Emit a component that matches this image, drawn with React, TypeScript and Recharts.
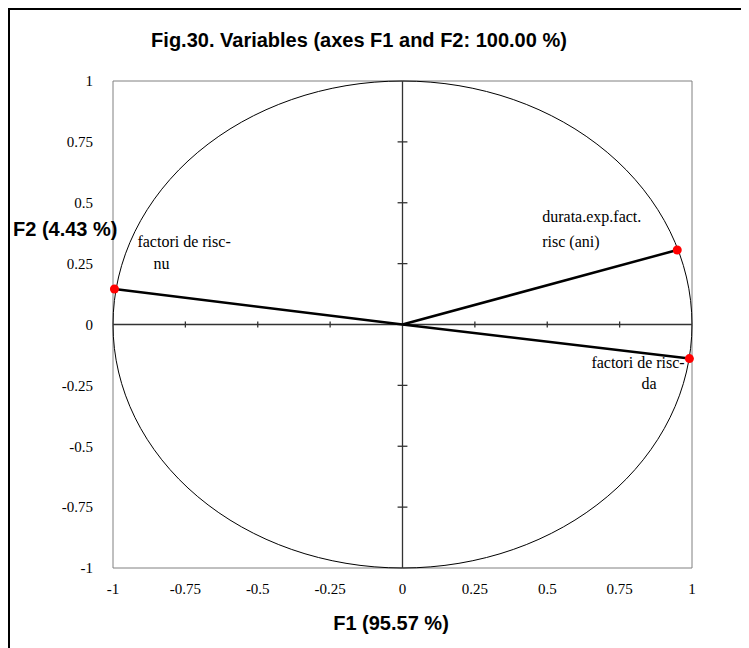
import { ReferenceArea, ReferenceLine, Scatter, ScatterChart, XAxis, YAxis } from "recharts";

const f1Ticks = [-1, -0.75, -0.5, -0.25, 0, 0.25, 0.5, 0.75, 1];
const f2Ticks = [-1, -0.75, -0.5, -0.25, 0, 0.25, 0.5, 0.75, 1];

const variables = ["factori de risc-nu", "durata.exp.fact. risc (ani)", "factori de risc-da"];
const f1Values = [-0.995, 0.949, 0.991];
const f2Values = [0.146, 0.306, -0.14];
const labelLines = [
  ["factori de risc-", "nu"],
  ["durata.exp.fact.", "risc (ani)"],
  ["factori de risc-", "da"],
];

// where each two-line label sits relative to its point (px)
const labelOffsets = [
  [[23, -42], [39, -20]],
  [[-135, -28], [-135, -3]],
  [[-98, 9], [-48, 30]],
];

const serif = "'Liberation Serif', 'Times New Roman', serif";
const sans = "'Liberation Sans', Arial, sans-serif";

function VectorEnd(props: any) {
  const { cx, cy, payload } = props;
  if (payload.origin) return <g />;
  const offs = labelOffsets[payload.idx];
  const lines = labelLines[payload.idx];
  return (
    <g>
      <circle cx={cx} cy={cy} r={4.5} fill="#ff0000" />
      {lines.map((t, i) => (
        <text key={i} x={cx + offs[i][0]} y={cy + offs[i][1]} fontFamily={serif} fontSize={16} fill="#000">
          {t}
        </text>
      ))}
    </g>
  );
}

function Ellipse(props: any) {
  const { x, y, width, height } = props;
  return (
    <ellipse cx={x + width / 2} cy={y + height / 2} rx={width / 2} ry={height / 2} fill="none" stroke="#000" strokeWidth={1} />
  );
}

export default function App() {
  const innerTicks = f1Ticks.filter((t) => t !== 0 && Math.abs(t) < 1);
  const innerTicksY = f2Ticks.filter((t) => t !== 0 && Math.abs(t) < 1);
  return (
    <div style={{ position: "relative", width: 741, height: 650, border: "2px solid #000", background: "#fff" }}>
      <ScatterChart width={741} height={640} margin={{ top: 71, right: 59, left: 43, bottom: 52 }}>
        <XAxis
          type="number"
          dataKey="x"
          domain={[-1, 1]}
          ticks={f1Ticks}
          axisLine={false}
          tickLine={false}
          tickSize={0}
          tickMargin={15}
          height={30}
          tick={{ fontFamily: serif, fontSize: 15, fill: "#000" }}
        />
        <YAxis
          type="number"
          dataKey="y"
          domain={[-1, 1]}
          ticks={f2Ticks}
          axisLine={false}
          tickLine={false}
          tickSize={0}
          tickMargin={20}
          width={60}
          tick={{ fontFamily: serif, fontSize: 15, fill: "#000" }}
        />
        <ReferenceArea x1={-1} x2={1} y1={-1} y2={1} fill="none" stroke="#808080" strokeWidth={1} />
        <ReferenceArea x1={-1} x2={1} y1={-1} y2={1} shape={<Ellipse />} />
        <ReferenceLine x={0} stroke="#333" strokeWidth={1.3} />
        <ReferenceLine y={0} stroke="#333" strokeWidth={1.3} />
        {innerTicks.map((t) => (
          <ReferenceLine key={"tx" + t} segment={[{ x: t, y: -0.0125 }, { x: t, y: 0.0125 }]} stroke="#333" strokeWidth={1.3} />
        ))}
        {innerTicksY.map((t) => (
          <ReferenceLine key={"ty" + t} segment={[{ x: -0.017, y: t }, { x: 0.017, y: t }]} stroke="#333" strokeWidth={1.3} />
        ))}
        {variables.map((name, i) => (
          <Scatter
            key={name}
            name={name}
            data={[
              { x: 0, y: 0, origin: true, idx: i },
              { x: f1Values[i], y: f2Values[i], origin: false, idx: i },
            ]}
            line={{ stroke: "#000", strokeWidth: 2.5 }}
            lineType="joint"
            shape={<VectorEnd />}
            isAnimationActive={false}
          />
        ))}
      </ScatterChart>
      <svg width={741} height={650} style={{ position: "absolute", left: 0, top: 0, pointerEvents: "none" }}>
        <text x={349} y={37} textAnchor="middle" fontFamily={sans} fontWeight="bold" fontSize={20} fill="#000">
          Fig.30. Variables (axes F1 and F2: 100.00 %)
        </text>
        <text x={381} y={620} textAnchor="middle" fontFamily={sans} fontWeight="bold" fontSize={20} fill="#000">
          F1 (95.57 %)
        </text>
        <text x={3} y={226} fontFamily={sans} fontWeight="bold" fontSize={20} fill="#000">
          F2 (4.43 %)
        </text>
      </svg>
    </div>
  );
}
